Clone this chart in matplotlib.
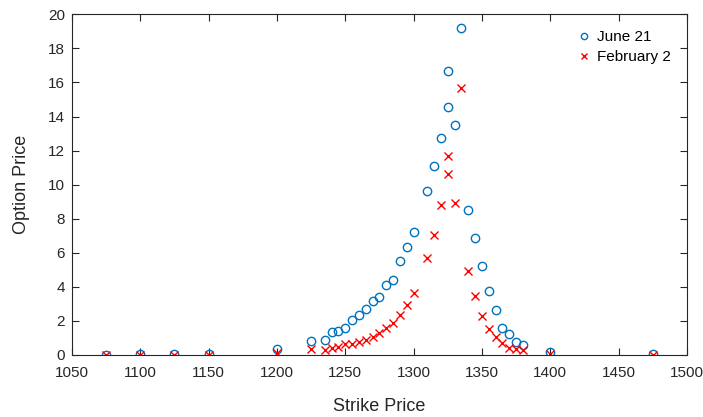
import numpy as np
import matplotlib
matplotlib.use('Agg')
import matplotlib.pyplot as plt

plt.rcParams['font.family'] = ['Liberation Sans', 'DejaVu Sans']

# strike prices and option prices
june_strike = [1075, 1100, 1125, 1150, 1200, 1225, 1235, 1240, 1245, 1250,
               1255, 1260, 1265, 1270, 1275, 1280, 1285, 1290, 1295, 1300,
               1310, 1315, 1320, 1325, 1325, 1330, 1335, 1340, 1345, 1350,
               1355, 1360, 1365, 1370, 1375, 1380, 1400, 1475]
june_price = [0.02, 0.05, 0.08, 0.08, 0.36, 0.80, 0.90, 1.33, 1.41, 1.56,
              2.03, 2.35, 2.72, 3.17, 3.42, 4.13, 4.40, 5.53, 6.33, 7.24,
              9.61, 11.08, 12.72, 16.69, 14.58, 13.51, 19.22, 8.53, 6.87, 5.21,
              3.76, 2.62, 1.60, 1.23, 0.75, 0.60, 0.17, 0.03]

feb_strike = [1075, 1100, 1125, 1150, 1200, 1225, 1235, 1240, 1245, 1250,
              1255, 1260, 1265, 1270, 1275, 1280, 1285, 1290, 1295, 1300,
              1310, 1315, 1320, 1325, 1325, 1330, 1335, 1340, 1345, 1350,
              1355, 1360, 1365, 1370, 1375, 1380, 1400, 1475]
feb_price = [0.0, 0.02, 0.02, 0.02, 0.12, 0.35, 0.29, 0.43, 0.45, 0.63,
             0.63, 0.78, 0.88, 1.08, 1.31, 1.57, 1.90, 2.35, 2.95, 3.65,
             5.70, 7.07, 8.79, 11.70, 10.63, 8.91, 15.66, 4.93, 3.48, 2.31,
             1.51, 1.04, 0.69, 0.43, 0.35, 0.29, 0.06, 0.0]

fig = plt.figure(figsize=(7.03, 4.17), dpi=100)
ax = fig.add_axes([0.1024, 0.1487, 0.8746, 0.817])

ax.plot(june_strike, june_price, 'o', color='#0072BD', mfc='none',
        ms=6, mew=1.0, ls='none', label='June 21')
ax.plot(feb_strike, feb_price, 'x', color='#FF0000',
        ms=6, mew=1.0, ls='none', label='February 2')

ax.set_xlim(1050, 1500)
ax.set_ylim(0, 20)
ax.set_xticks(np.arange(1050, 1501, 50))
ax.set_yticks(np.arange(0, 21, 2))
ax.tick_params(direction='in', top=True, right=True, length=5,
               labelsize=11, colors='0.15', width=0.8)
ax.tick_params(axis='x', pad=8)
ax.tick_params(axis='y', pad=5)
for s in ax.spines.values():
    s.set_color('0.15')
    s.set_linewidth(0.8)

ax.set_xlabel('Strike Price', fontsize=13, color='0.15', labelpad=13)
ax.set_ylabel('Option Price', fontsize=13, color='0.15', labelpad=13)
ax.legend(loc='upper right', frameon=False, fontsize=11, handletextpad=0.35,
          handlelength=1.0, markerscale=0.75, borderaxespad=0.65,
          labelspacing=0.4)

fig.savefig('out.png', dpi=100)
